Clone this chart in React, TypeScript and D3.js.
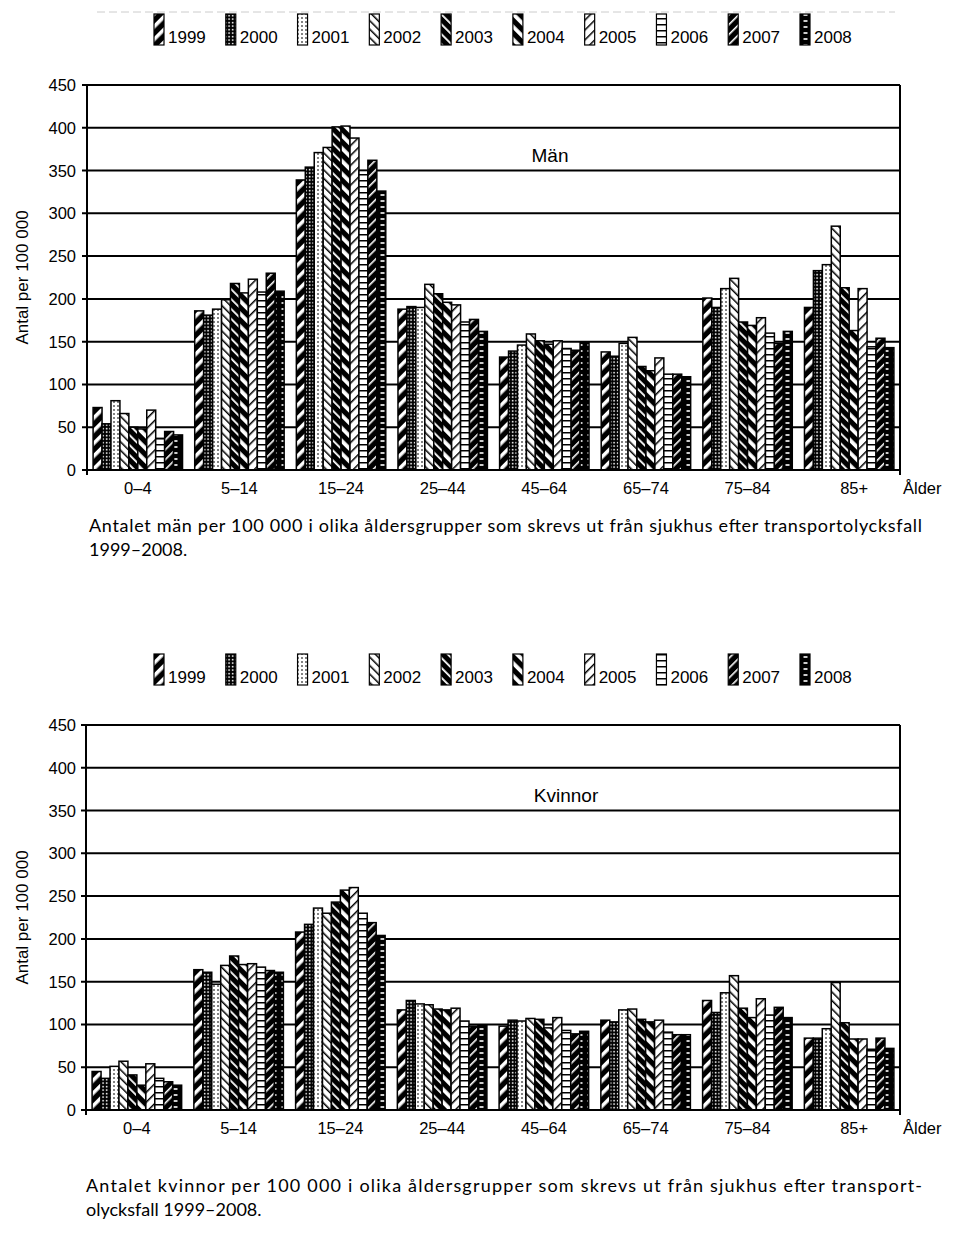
import React from "react";
import * as d3 from "d3";

const ageGroups = ["0–4", "5–14", "15–24", "25–44", "45–64", "65–74", "75–84", "85+"];
const years = ["1999", "2000", "2001", "2002", "2003", "2004", "2005", "2006", "2007", "2008"];
const yTicks = [0, 50, 100, 150, 200, 250, 300, 350, 400, 450];

// Män: values per age group, years 1999..2008
const men_0_4 = [73, 54, 81, 66, 50, 48, 70, 37, 45, 41];
const men_5_14 = [186, 181, 188, 199, 218, 207, 223, 208, 230, 209];
const men_15_24 = [339, 354, 371, 377, 401, 402, 388, 350, 362, 326];
const men_25_44 = [188, 191, 190, 217, 206, 196, 193, 173, 176, 162];
const men_45_64 = [132, 139, 146, 159, 151, 147, 151, 142, 140, 149];
const men_65_74 = [138, 133, 148, 155, 121, 116, 131, 112, 112, 109];
const men_75_84 = [201, 190, 212, 224, 173, 169, 178, 160, 148, 162];
const men_85 = [190, 233, 240, 285, 213, 163, 212, 144, 154, 143];

// Kvinnor
const women_0_4 = [45, 37, 51, 57, 41, 29, 54, 37, 33, 29];
const women_5_14 = [164, 161, 147, 169, 180, 170, 171, 167, 163, 161];
const women_15_24 = [208, 217, 236, 230, 243, 257, 260, 230, 219, 204];
const women_25_44 = [117, 128, 124, 123, 118, 117, 119, 104, 98, 99];
const women_45_64 = [98, 105, 104, 107, 106, 96, 108, 93, 89, 92];
const women_65_74 = [105, 103, 117, 118, 106, 103, 105, 91, 88, 88];
const women_75_84 = [128, 114, 137, 157, 119, 108, 130, 111, 120, 108];
const women_85 = [84, 84, 95, 149, 102, 83, 83, 71, 84, 72];

const menValues = [men_0_4, men_5_14, men_15_24, men_25_44, men_45_64, men_65_74, men_75_84, men_85];
const womenValues = [women_0_4, women_5_14, women_15_24, women_25_44, women_45_64, women_65_74, women_75_84, women_85];

const SANS = "'Liberation Sans', Arial, sans-serif";
const CAP = "Lato, 'Open Sans', sans-serif";

function Patterns() {
  return (
    <defs>
      <pattern id="p1999" patternUnits="userSpaceOnUse" width="9" height="9" patternTransform="rotate(45)">
        <rect width="9" height="9" fill="#000" />
        <rect x="0" width="3.6" height="9" fill="#fff" />
      </pattern>
      <pattern id="p2000" patternUnits="userSpaceOnUse" width="3.5" height="3.5">
        <rect width="3.5" height="3.5" fill="#000" />
        <rect x="0.8" y="0.8" width="1.6" height="1.6" fill="#fff" />
      </pattern>
      <pattern id="p2001" patternUnits="userSpaceOnUse" width="4" height="4">
        <rect width="4" height="4" fill="#fff" />
        <rect x="1.3" y="1.3" width="1.4" height="1.4" fill="#000" />
      </pattern>
      <pattern id="p2002" patternUnits="userSpaceOnUse" width="6" height="6" patternTransform="rotate(-45)">
        <rect width="6" height="6" fill="#fff" />
        <rect x="0" width="1.5" height="6" fill="#000" />
      </pattern>
      <pattern id="p2003" patternUnits="userSpaceOnUse" width="7" height="7" patternTransform="rotate(-45)">
        <rect width="7" height="7" fill="#000" />
        <rect x="0" width="1.8" height="7" fill="#fff" />
      </pattern>
      <pattern id="p2004" patternUnits="userSpaceOnUse" width="9" height="9" patternTransform="rotate(-45)">
        <rect width="9" height="9" fill="#000" />
        <rect x="0" width="3.8" height="9" fill="#fff" />
      </pattern>
      <pattern id="p2005" patternUnits="userSpaceOnUse" width="7" height="7" patternTransform="rotate(45)">
        <rect width="7" height="7" fill="#fff" />
        <rect x="0" width="1.5" height="7" fill="#000" />
      </pattern>
      <pattern id="p2006" patternUnits="userSpaceOnUse" width="6" height="6">
        <rect width="6" height="6" fill="#fff" />
        <rect x="0" y="0" width="6" height="1.5" fill="#000" />
      </pattern>
      <pattern id="p2007" patternUnits="userSpaceOnUse" width="7" height="7" patternTransform="rotate(45)">
        <rect width="7" height="7" fill="#000" />
        <rect x="0" width="1.6" height="7" fill="#fff" />
      </pattern>
      <pattern id="p2008" patternUnits="userSpaceOnUse" width="9" height="6">
        <rect width="9" height="6" fill="#000" />
        <rect x="2.5" y="2.2" width="4" height="1.6" fill="#fff" />
      </pattern>
    </defs>
  );
}

function Legend({ y }: { y: number }) {
  const lx = d3.scaleLinear().domain([0, years.length - 1]).range([154, 800]);
  return (
    <g>
      {years.map((yr, i) => (
        <g key={yr}>
          <rect x={lx(i)} y={y} width={10} height={31} fill={`url(#p${yr})`} stroke="#000" strokeWidth={1.2} />
          <text x={lx(i) + 14} y={y + 29} fontFamily={SANS} fontSize={17} fill="#000">{yr}</text>
        </g>
      ))}
    </g>
  );
}

function Chart({
  values, top, left, title, titleX,
}: { values: number[][]; top: number; left: number; title: string; titleX: number }) {
  const right = 900;
  const bottom = top + 385;
  const y = d3.scaleLinear().domain([0, 450]).range([bottom, top]);
  const x0 = d3.scaleBand().domain(ageGroups).range([left, right]).paddingInner(0.12).paddingOuter(0.06);
  const x1 = d3.scaleBand().domain(years).range([0, x0.bandwidth()]).padding(0);
  return (
    <g>
      {yTicks.map((t) => (
        <g key={t}>
          <line x1={left - 5} x2={right} y1={y(t)} y2={y(t)} stroke="#000" strokeWidth={2} />
          <text x={76} y={y(t) + 6} textAnchor="end" fontFamily={SANS} fontSize={16.5}>{t}</text>
        </g>
      ))}
      {ageGroups.map((g, gi) => (
        <g key={g}>
          {years.map((yr, yi) => {
            const v = values[gi][yi];
            return (
              <rect
                key={yr}
                x={(x0(g) as number) + (x1(yr) as number)}
                y={y(v)}
                width={x1.bandwidth()}
                height={y(0) - y(v)}
                fill={`url(#p${yr})`}
                stroke="#000"
                strokeWidth={1.5}
              />
            );
          })}
          <text x={(x0(g) as number) + x0.bandwidth() / 2 + (gi === ageGroups.length - 1 ? 5 : 0)} y={bottom + 24} textAnchor="middle" fontFamily={SANS} fontSize={16.5}>{g}</text>
        </g>
      ))}
      <line x1={left} x2={left} y1={top} y2={bottom + 5} stroke="#000" strokeWidth={2} />
      <line x1={right} x2={right} y1={top} y2={bottom + 5} stroke="#000" strokeWidth={2} />
      <line x1={left - 5} x2={right} y1={bottom} y2={bottom} stroke="#000" strokeWidth={2} />
      <text x={903} y={bottom + 24} fontFamily={SANS} fontSize={16.5}>Ålder</text>
      <text x={titleX} y={top + 77} textAnchor="middle" fontFamily={SANS} fontSize={19}>{title}</text>
      <text
        transform={`translate(28,${(top + bottom) / 2}) rotate(-90)`}
        textAnchor="middle"
        fontFamily={SANS}
        fontSize={17}
      >Antal per 100 000</text>
    </g>
  );
}

export default function App() {
  return (
    <svg width={959} height={1245} style={{ position: "absolute", left: 0, top: 0, background: "#fff" }}>
      <Patterns />
      <rect width={959} height={1245} fill="#fff" />
      <line x1={97} x2={895} y1={12} y2={12} stroke="#ccc" strokeWidth={1} strokeDasharray="8,4" />
      <Legend y={14} />
      <Chart values={menValues} top={85} left={87} title="Män" titleX={550} />
      <text x={89} y={532} fontFamily={CAP} fontSize={18} textLength={833} lengthAdjust="spacing">
        Antalet män per 100 000 i olika åldersgrupper som skrevs ut från sjukhus efter transportolycksfall
      </text>
      <text x={89} y={556} fontFamily={CAP} fontSize={18}>1999–2008.</text>

      <Legend y={654} />
      <Chart values={womenValues} top={725} left={86} title="Kvinnor" titleX={566} />
      <text x={86} y={1192} fontFamily={CAP} fontSize={18} textLength={836} lengthAdjust="spacing">
        Antalet kvinnor per 100 000 i olika åldersgrupper som skrevs ut från sjukhus efter transport-
      </text>
      <text x={86} y={1216} fontFamily={CAP} fontSize={18}>olycksfall 1999–2008.</text>
    </svg>
  );
}
